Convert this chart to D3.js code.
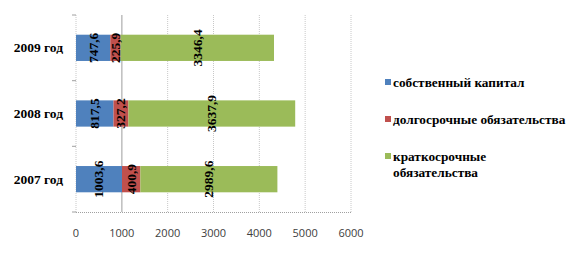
<!DOCTYPE html>
<html><head><meta charset="utf-8">
<script src="https://cdn.jsdelivr.net/npm/d3@7"></script>
<style>body{margin:0;background:#fff} .s{font-family:"Liberation Serif","Times New Roman","DejaVu Serif",serif;font-weight:bold}</style>
</head><body>
<svg id="c" width="583" height="256"></svg>
<script>
const categories = ["2009 год", "2008 год", "2007 год"];
const seriesNames = ["собственный капитал", "долгосрочные обязательства", "краткосрочные обязательства"];
const equity = [747.6, 817.5, 1003.6];
const longTerm = [225.9, 327.2, 400.9];
const shortTerm = [3346.4, 3637.9, 2989.6];
const xTicks = [0, 1000, 2000, 3000, 4000, 5000, 6000];
const colors = ["#4F81BD", "#C0504D", "#9BBB59"];

const svg = d3.select("#c");
const m = {l: 76, t: 15};
const x = d3.scaleLinear().domain([0, 6000]).range([m.l, 351]);
const y = d3.scaleBand().domain(categories).range([m.t, 212]).paddingInner(0.6).paddingOuter(0.3);

// gridlines
svg.append("g").selectAll("line").data(xTicks).join("line")
  .attr("x1", d => x(d)).attr("x2", d => x(d))
  .attr("y1", m.t).attr("y2", 212)
  .attr("stroke", d => d === 1000 ? "#bdbdbd" : "#c8c8c8")
  .attr("stroke-width", d => d === 1000 ? 1.5 : 1)
  .attr("stroke-dasharray", d => d === 1000 ? null : "1,1");

// bottom axis line
svg.append("line").attr("x1", x(0)).attr("x2", x(6000)).attr("y1", 212.5).attr("y2", 212.5)
  .attr("stroke", "#a0a0a0").attr("stroke-dasharray", "1,1");
// category boundary ticks
const bounds = [m.t, 80.7, 146.3, 212];
svg.append("g").selectAll("line").data(bounds).join("line")
  .attr("x1", x(0) - 4).attr("x2", x(0)).attr("y1", d => d).attr("y2", d => d)
  .attr("stroke", "#a0a0a0");

const data = categories.map((c, i) => ({c, vals: [equity[i], longTerm[i], shortTerm[i]]}));
const gBars = svg.append("g");
data.forEach(d => {
  let acc = 0;
  d.vals.forEach((v, k) => {
    const x0 = x(acc), x1 = x(acc + v);
    gBars.append("rect").attr("x", x0).attr("y", y(d.c)).attr("width", x1 - x0).attr("height", y.bandwidth())
      .attr("fill", colors[k]);
    acc += v;
  });
  acc = 0;
  d.vals.forEach((v, k) => {
    const x0 = x(acc), x1 = x(acc + v);
    const cx = (x0 + x1) / 2, cy = y(d.c) + y.bandwidth() / 2;
    gBars.append("text").attr("class", "s").attr("transform", `translate(${cx + 4.5},${cy}) rotate(-90)`)
      .attr("text-anchor", "middle").attr("font-size", 13.5)
      .attr("fill", "#000")
      .text(String(v.toFixed(1)).replace(".", ","));
    acc += v;
  });
});

// category labels
svg.append("g").selectAll("text").data(categories).join("text")
  .attr("class", "s")
  .attr("x", 63).attr("y", d => y(d) + y.bandwidth() / 2 + 4.5)
  .attr("text-anchor", "end").attr("font-size", 13.5)
  .text(d => d);

// x tick labels
svg.append("g").selectAll("text").data(xTicks).join("text")
  .attr("x", d => x(d)).attr("y", 237)
  .attr("text-anchor", "middle")
  .attr("font-family", "Open Sans").attr("font-size", 11).attr("fill", "#404040")
  .text(d => d);

// legend
const legY = [83, 120, 157];
const leg = svg.append("g");
seriesNames.forEach((n, i) => {
  leg.append("rect").attr("x", 385).attr("y", legY[i] - 4).attr("width", 6).attr("height", 6).attr("fill", colors[i]);
  const t = leg.append("text").attr("class", "s").attr("x", 393).attr("y", legY[i] + 4)
    .attr("font-size", 13.3).attr("fill", "#000");
  if (i === 2) {
    t.append("tspan").attr("x", 393).text("краткосрочные");
    t.append("tspan").attr("x", 393).attr("dy", 16).text("обязательства");
  } else t.text(n);
});
</script>
</body></html>
